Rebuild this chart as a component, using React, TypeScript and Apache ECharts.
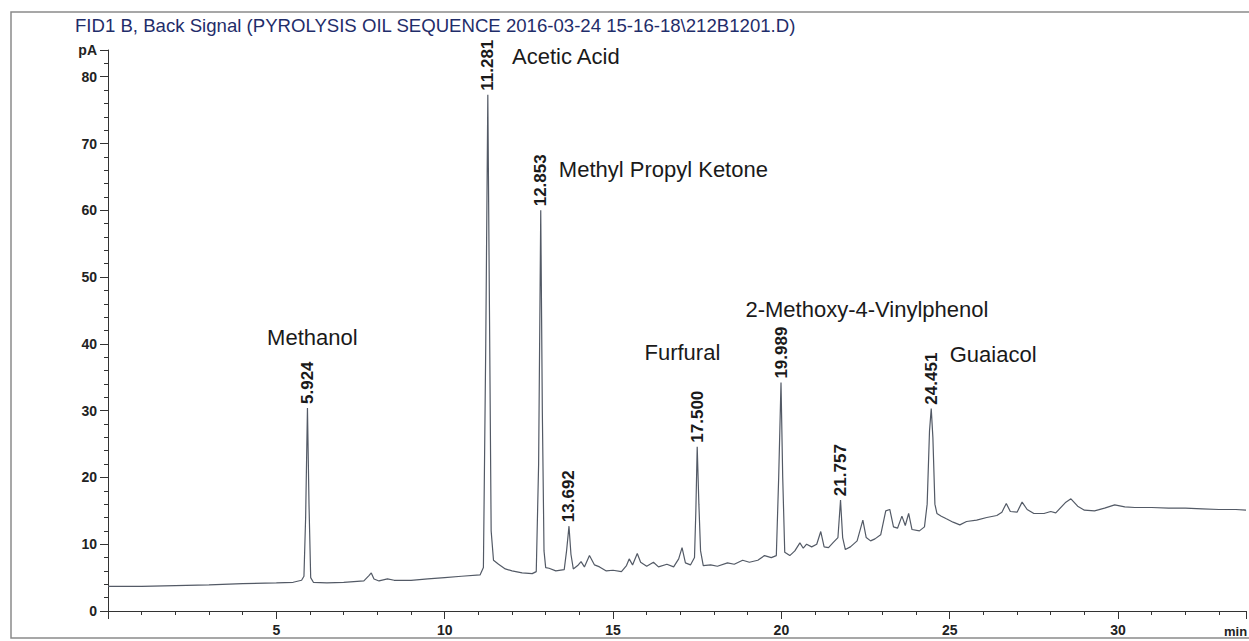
import React, { useEffect, useRef } from "react";
import * as echarts from "echarts";

const titleText = "FID1 B, Back Signal (PYROLYSIS OIL SEQUENCE 2016-03-24 15-16-18\\212B1201.D)";

// Chromatogram trace: [retention time (min), signal (pA)]
const chromatogram: [number, number][] = [
  [0.0, 3.7], [1.0, 3.7], [2.0, 3.8], [3.0, 3.9], [4.0, 4.1], [5.0, 4.2], [5.5, 4.3],
  [5.75, 4.6], [5.82, 5.2], [5.87, 14], [5.924, 30.4], [5.97, 16], [6.02, 5.0], [6.1, 4.3],
  [6.5, 4.2], [7.0, 4.3], [7.6, 4.5], [7.75, 5.3], [7.82, 5.7], [7.9, 4.8], [8.05, 4.5],
  [8.3, 4.8], [8.5, 4.6], [9.0, 4.6], [9.5, 4.8], [10.0, 5.0], [10.5, 5.2], [11.05, 5.4],
  [11.15, 6.5], [11.22, 40], [11.281, 77.3], [11.33, 45], [11.38, 12], [11.45, 7.6],
  [11.6, 7.0], [11.8, 6.3], [12.0, 6.0], [12.3, 5.7], [12.6, 5.6], [12.72, 5.9], [12.79, 22],
  [12.853, 60.0], [12.9, 30], [12.95, 9], [13.0, 6.5], [13.1, 6.4], [13.3, 6.0], [13.55, 6.2],
  [13.62, 9], [13.692, 12.7], [13.75, 8.5], [13.82, 6.3], [13.95, 6.8], [14.05, 7.4],
  [14.15, 6.6], [14.3, 8.3], [14.45, 6.9], [14.6, 6.6], [14.8, 6.0], [15.0, 6.1], [15.25, 5.9],
  [15.4, 6.8], [15.48, 7.8], [15.58, 6.9], [15.72, 8.6], [15.82, 7.3], [16.0, 6.7], [16.2, 7.3],
  [16.35, 6.6], [16.6, 7.0], [16.8, 6.6], [16.95, 7.8], [17.05, 9.5], [17.15, 7.2], [17.3, 6.9],
  [17.42, 8], [17.46, 15], [17.5, 24.6], [17.55, 16], [17.6, 9], [17.68, 6.8], [17.9, 6.9],
  [18.1, 6.7], [18.4, 7.2], [18.6, 7.0], [18.85, 7.6], [19.05, 7.3], [19.3, 7.6], [19.5, 8.3],
  [19.7, 8.0], [19.85, 8.3], [19.92, 20], [19.989, 34.2], [20.04, 20], [20.1, 8.8], [20.25, 8.3],
  [20.4, 9.0], [20.55, 10.2], [20.65, 9.4], [20.75, 10.0], [20.9, 9.6], [21.05, 10.0],
  [21.17, 11.9], [21.27, 9.6], [21.4, 9.5], [21.55, 10.3], [21.68, 11], [21.757, 16.6],
  [21.82, 11], [21.9, 9.2], [22.05, 9.6], [22.25, 10.5], [22.42, 13.6], [22.52, 11],
  [22.65, 10.5], [22.78, 10.8], [22.95, 11.4], [23.1, 15.0], [23.22, 15.2], [23.33, 12.6],
  [23.45, 12.4], [23.58, 14.2], [23.68, 12.8], [23.78, 14.6], [23.88, 12.2], [24.1, 12.0],
  [24.25, 12.6], [24.33, 16], [24.4, 27], [24.451, 30.3], [24.5, 26], [24.56, 16], [24.62, 14.6],
  [24.75, 14.2], [24.9, 13.8], [25.1, 13.3], [25.3, 12.9], [25.5, 13.4], [25.8, 13.6],
  [26.1, 14.0], [26.4, 14.3], [26.55, 14.8], [26.68, 16.1], [26.8, 14.9], [27.0, 14.8],
  [27.15, 16.3], [27.3, 15.2], [27.5, 14.6], [27.8, 14.6], [28.0, 14.9], [28.15, 14.7],
  [28.45, 16.3], [28.6, 16.8], [28.8, 15.7], [29.0, 15.1], [29.3, 15.0], [29.6, 15.4],
  [29.9, 15.9], [30.2, 15.6], [30.5, 15.5], [31.0, 15.5], [31.5, 15.4], [32.0, 15.4],
  [32.5, 15.3], [33.0, 15.2], [33.5, 15.2], [33.8, 15.1],
];

// Integrated peaks: retention time labels
const peakTimes = [5.924, 11.281, 12.853, 13.692, 17.5, 19.989, 21.757, 24.451];
const peakHeights = [30.4, 77.3, 60.0, 12.7, 24.6, 34.2, 16.6, 30.3];

// Compound annotations
const compoundNames = ["Methanol", "Acetic Acid", "Methyl Propyl Ketone", "Furfural", "2-Methoxy-4-Vinylphenol", "Guaiacol"];
const compoundTimes = [6.07, 12.0, 13.39, 17.06, 22.54, 25.0];
const compoundLevels = [41.0, 83.0, 66.1, 38.7, 45.2, 38.4];
const compoundAlign = ["center", "left", "left", "center", "center", "left"];

const xTickValues = [5, 10, 15, 20, 25, 30];
const yTickValues = [0, 10, 20, 30, 40, 50, 60, 70, 80];

const FONT = "Liberation Sans, Arial, sans-serif";

export default function App() {
  const ref = useRef<HTMLDivElement>(null);
  useEffect(() => {
    if (!ref.current) return;
    const chart = echarts.init(ref.current, null, { renderer: "svg" });
    const axisColor = "#333";
    chart.setOption({
      animation: false,
      backgroundColor: "#fff",
      title: {
        text: titleText,
        left: 70,
        top: 11,
        textStyle: { fontFamily: FONT, fontSize: 18.6, fontWeight: "normal", color: "#1f2d6a" },
      },
      grid: { left: 108, right: 0, top: 50, bottom: 30 },
      xAxis: [
        {
          type: "value", min: 0, max: 33.8, interval: 5, position: "bottom",
          axisLine: { show: true, lineStyle: { color: axisColor, width: 1 } },
          axisTick: { show: true, length: 8, lineStyle: { color: axisColor } },
          splitLine: { show: false },
          axisLabel: {
            margin: 12, fontFamily: FONT, fontSize: 14, fontWeight: "bold", color: "#222",
            formatter: (v: number) => (xTickValues.includes(v) ? String(v) : ""),
          },
        },
        {
          type: "value", min: 0, max: 33.8, interval: 1, position: "bottom",
          axisLine: { show: false },
          axisTick: { show: true, length: 4, lineStyle: { color: axisColor } },
          splitLine: { show: false },
          axisLabel: { show: false },
        },
      ],
      yAxis: [
        {
          type: "value", min: 0, max: 84, interval: 10, position: "left",
          axisLine: { show: true, lineStyle: { color: axisColor, width: 1 } },
          axisTick: { show: true, length: 8, lineStyle: { color: axisColor } },
          splitLine: { show: false },
          axisLabel: {
            margin: 11, fontFamily: FONT, fontSize: 14, fontWeight: "bold", color: "#222",
            formatter: (v: number) => (v === 84 ? "pA" : yTickValues.includes(v) ? String(v) : ""),
          },
        },
        {
          type: "value", min: 0, max: 84, interval: 2, position: "left",
          axisLine: { show: false },
          axisTick: { show: true, length: 4, lineStyle: { color: axisColor } },
          splitLine: { show: false },
          axisLabel: { show: false },
        },
      ],
      graphic: [
        {
          type: "rect", silent: true, z: -1,
          shape: { x: 11, y: 12, width: 1400, height: 626 },
          style: { fill: "none", stroke: "#8a8a8a", lineWidth: 1.5 },
        },
        {
          type: "text", left: 1224, top: 625,
          style: { text: "min", font: `bold 13px ${FONT}`, fill: "#222" },
        },
      ],
      series: [
        {
          type: "line", name: "FID1 B", xAxisIndex: 0, yAxisIndex: 0,
          data: chromatogram, showSymbol: false, symbol: "none",
          lineStyle: { color: "#535a66", width: 1.2 }, z: 3,
        },
        {
          type: "scatter", name: "peaks", xAxisIndex: 0, yAxisIndex: 0,
          data: peakTimes.map((t, i) => [t, peakHeights[i]]),
          symbolSize: 2, itemStyle: { color: "rgba(0,0,0,0)" },
          label: {
            show: true, position: "top", distance: 3, rotate: 90,
            align: "left", verticalAlign: "middle", opacity: 1,
            fontFamily: FONT, fontSize: 17, fontWeight: "bold", color: "#1a1a1a",
            formatter: (p: any) => p.value[0].toFixed(3),
          },
          z: 4,
        },
        {
          type: "scatter", name: "compounds", xAxisIndex: 0, yAxisIndex: 0,
          data: compoundNames.map((n, i) => ({
            name: n,
            value: [compoundTimes[i], compoundLevels[i]],
            label: { align: compoundAlign[i] },
          })),
          symbolSize: 2, itemStyle: { color: "rgba(0,0,0,0)" },
          label: {
            show: true, position: "inside", verticalAlign: "middle", opacity: 1,
            fontFamily: FONT, fontSize: 22, color: "#1a1a1a",
            formatter: (p: any) => p.name,
          },
          z: 4,
        },
      ],
    });
    return () => chart.dispose();
  }, []);
  return (
    <div
      ref={ref}
      style={{ position: "absolute", left: 0, top: 0, width: 1249, height: 641, background: "#fff" }}
    />
  );
}
